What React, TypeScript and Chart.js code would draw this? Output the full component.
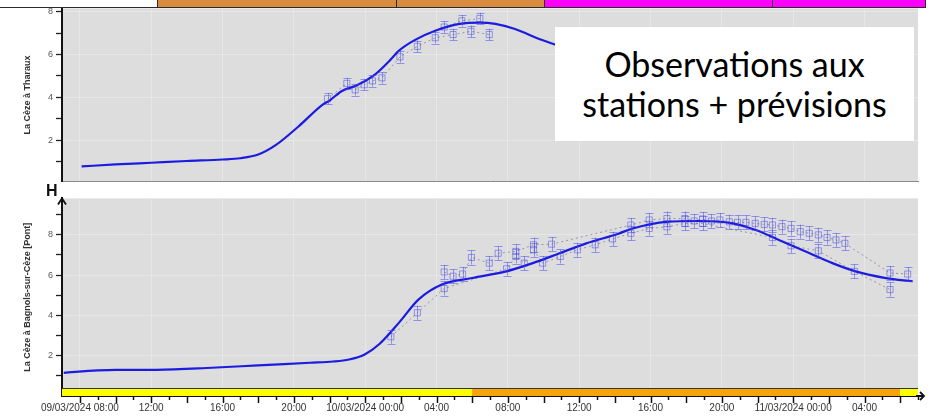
import React, { useEffect, useRef } from "react";
import { Chart, registerables } from "chart.js";
Chart.register(...registerables);

const FONT = "'Liberation Sans', Arial, sans-serif";

// x values: hours since 09/03/2024 00:00
const X_MIN = 7;
const X_MAX = 55;
const X_LABEL_HOURS = [8, 12, 16, 20, 24, 28, 32, 36, 40, 44, 48, 52];
const X_LABELS = [
  "09/03/2024 08:00", "12:00", "16:00", "20:00", "10/03/2024 00:00", "04:00",
  "08:00", "12:00", "16:00", "20:00", "11/03/2024 00:00", "04:00",
];
const Y_LABELS_TOP = [2, 4, 6, 8];
const Y_LABELS_BOTTOM = [2, 4, 6, 8];

// ---- Top panel: La Cèze à Tharaux ----
const TOP_FC_H = [8.1, 10, 12, 14, 16, 17, 18, 19, 20.3, 21.6, 22.0, 22.7, 23.5, 24.6, 25.3, 25.9, 26.8, 28.0, 29.3, 30.4, 31.3, 32.4, 33.8, 34.6, 36, 38, 40, 42, 44, 46, 48, 50, 52, 54];
const TOP_FC_V = [0.78, 0.87, 0.95, 1.03, 1.1, 1.16, 1.33, 1.78, 2.67, 3.65, 3.85, 4.3, 4.55, 5.1, 5.65, 6.18, 6.68, 7.13, 7.43, 7.49, 7.43, 7.19, 6.71, 6.48, 6.0, 5.3, 4.6, 4.0, 3.5, 3.1, 2.8, 2.6, 2.45, 2.35];
const TOP_OBS1_H = [21.89, 22.97, 23.44, 23.95, 24.41, 24.94, 25.95, 26.93, 27.93, 28.93, 29.93, 30.96];
const TOP_OBS1_V = [3.94, 4.65, 4.35, 4.59, 4.77, 4.91, 5.89, 6.38, 6.78, 6.93, 7.08, 6.93];
const TOP_OBS2_H = [28.43, 29.42, 30.43];
const TOP_OBS2_V = [7.28, 7.57, 7.68];
const TOP_ERR = 0.27;

// ---- Bottom panel: La Cèze à Bagnols-sur-Cèze [Pont] ----
const BOT_FC_H = [7.1, 9, 10, 12.3, 15.4, 18, 20.9, 22.2, 23.1, 23.95, 24.8, 25.9, 27.0, 28.3, 30.0, 31.9, 33.4, 34.9, 36.4, 38.2, 39.0, 40.9, 42.7, 44.6, 45.9, 47.2, 48.7, 50.2, 51.5, 53.2, 54.7];
const BOT_FC_V = [1.15, 1.27, 1.3, 1.3, 1.4, 1.52, 1.65, 1.71, 1.81, 2.05, 2.58, 3.64, 4.79, 5.53, 5.85, 6.18, 6.59, 7.08, 7.57, 8.05, 8.31, 8.64, 8.68, 8.56, 8.23, 7.74, 7.17, 6.59, 6.18, 5.85, 5.69];
const BOT_OBS1_H = [25.44, 26.93, 28.43, 31.93, 32.45, 32.92, 33.44, 33.95, 34.94, 35.9, 36.9, 37.87, 38.9, 39.93, 40.92, 41.93, 42.92, 46.84, 47.88, 49.41, 51.43, 53.43];
const BOT_OBS1_V = [2.94, 4.13, 5.33, 6.31, 6.92, 6.59, 7.25, 6.59, 6.92, 7.25, 7.5, 7.79, 8.07, 8.31, 8.39, 8.56, 8.56, 7.86, 7.45, 7.2, 6.18, 5.28];
const BOT_OBS2_H = [28.43, 28.93, 29.46, 29.96, 30.96, 31.46, 32.45, 33.44, 34.45, 38.9, 39.93, 40.92, 41.93, 42.45, 42.92, 43.42, 43.89, 44.42, 44.88, 45.35, 45.87, 46.38, 46.84, 47.37, 47.88, 48.4, 48.9, 49.41, 49.9, 50.4, 50.9, 53.43, 54.42];
const BOT_OBS2_V = [6.15, 5.94, 6.05, 6.87, 6.59, 7.08, 7.17, 7.5, 7.53, 8.48, 8.73, 8.8, 8.8, 8.68, 8.78, 8.68, 8.73, 8.64, 8.61, 8.61, 8.56, 8.51, 8.48, 8.4, 8.31, 8.15, 8.07, 7.99, 7.86, 7.74, 7.57, 6.1, 6.05];
const BOT_ERR = 0.35;

// vigilance bands (hour boundaries)
const TOP_BAND_EDGES = [3.4, 12.3, 25.75, 34.05, 46.8, 55.4];
const TOP_BAND_COLORS = ["#ffffff", "#d98b3f", "#d98b3f", "#ff00ff", "#ff00ff"];
const BOT_BAND_EDGES = [7, 30, 54, 55];
const BOT_BAND_COLORS = ["#ffff00", "#f7a30a", "#ffff00"];

const PLOT_BG = "#dddddd";
const GRID = "#e7e7e7";
const FC_COLOR = "#1c1ce0";
const OBS_COLOR = "rgba(70,70,235,0.5)";
const OBS_LINE = "rgba(110,110,140,0.65)";

const pts = (h: number[], v: number[]) => h.map((x, i) => ({ x, y: v[i] }));

const hourTickList = () => {
  const out: { value: number }[] = [];
  for (let h = X_MIN; h <= X_MAX; h++) out.push({ value: h });
  return out;
};

const bgPlugin = {
  id: "plotbg",
  beforeDraw(chart: any) {
    const { ctx, chartArea: a } = chart;
    ctx.save();
    ctx.fillStyle = PLOT_BG;
    ctx.fillRect(a.left, a.top, a.right - a.left, a.bottom - a.top);
    ctx.restore();
  },
};

const errPlugin = {
  id: "errbars",
  afterDatasetsDraw(chart: any, _a: any, opts: any) {
    const { ctx } = chart;
    const ys = chart.scales.y;
    chart.data.datasets.forEach((ds: any, di: number) => {
      if (!ds.isObs) return;
      const meta = chart.getDatasetMeta(di);
      ctx.save();
      ctx.strokeStyle = OBS_COLOR;
      ctx.lineWidth = 1;
      meta.data.forEach((p: any, i: number) => {
        const v = ds.data[i].y;
        const yt = ys.getPixelForValue(v + opts.err);
        const yb = ys.getPixelForValue(v - opts.err);
        const x = Math.round(p.x) + 0.5;
        ctx.beginPath();
        ctx.moveTo(x, yt);
        ctx.lineTo(x, yb);
        ctx.moveTo(x - 4, Math.round(yt) + 0.5);
        ctx.lineTo(x + 4, Math.round(yt) + 0.5);
        ctx.moveTo(x - 4, Math.round(yb) + 0.5);
        ctx.lineTo(x + 4, Math.round(yb) + 0.5);
        ctx.stroke();
      });
      ctx.restore();
    });
  },
};

const topBandPlugin = {
  id: "topband",
  afterDraw(chart: any) {
    const { ctx } = chart;
    const xs = chart.scales.x;
    ctx.save();
    for (let i = 0; i < TOP_BAND_COLORS.length; i++) {
      const x0 = Math.round(xs.getPixelForValue(TOP_BAND_EDGES[i]));
      const x1 = Math.round(xs.getPixelForValue(TOP_BAND_EDGES[i + 1]));
      ctx.fillStyle = TOP_BAND_COLORS[i];
      ctx.fillRect(x0, 0, x1 - x0, 7);
      ctx.strokeStyle = "#2a2a2a";
      ctx.lineWidth = 1;
      ctx.strokeRect(x0 + 0.5, -2, x1 - x0, 9.5);
    }
    ctx.restore();
  },
};

const botBandPlugin = {
  id: "botband",
  beforeDatasetsDraw(chart: any) {
    const { ctx, chartArea: a } = chart;
    const xs = chart.scales.x;
    ctx.save();
    for (let i = 0; i < BOT_BAND_COLORS.length; i++) {
      const x0 = xs.getPixelForValue(BOT_BAND_EDGES[i]);
      const x1 = xs.getPixelForValue(BOT_BAND_EDGES[i + 1]);
      ctx.fillStyle = BOT_BAND_COLORS[i];
      ctx.fillRect(x0, a.bottom - 8, x1 - x0, 8);
    }
    ctx.strokeStyle = "#333";
    ctx.lineWidth = 1;
    ctx.beginPath();
    ctx.moveTo(a.left, Math.round(a.bottom - 8) + 0.5);
    ctx.lineTo(a.right, Math.round(a.bottom - 8) + 0.5);
    ctx.stroke();
    ctx.restore();
  },
  afterDraw(chart: any) {
    const { ctx, chartArea: a } = chart;
    const xs = chart.scales.x;
    ctx.save();
    ctx.strokeStyle = "#111";
    ctx.lineWidth = 1.5;
    // hour tick marks
    for (let h = X_MIN + 1; h <= X_MAX; h++) {
      const x = Math.round(xs.getPixelForValue(h)) + 0.5;
      const len = h % 2 === 0 ? 7 : 4;
      ctx.beginPath();
      ctx.moveTo(x, a.bottom);
      ctx.lineTo(x, a.bottom + len);
      ctx.stroke();
    }
    // y-axis arrow
    ctx.lineWidth = 1.8;
    ctx.beginPath();
    ctx.moveTo(a.left - 4, a.top + 6);
    ctx.lineTo(a.left, a.top);
    ctx.lineTo(a.left + 4, a.top + 6);
    ctx.stroke();
    // x-axis arrow
    ctx.beginPath();
    ctx.moveTo(a.right - 2, a.bottom);
    ctx.lineTo(a.right + 6, a.bottom);
    ctx.moveTo(a.right + 2, a.bottom - 4);
    ctx.lineTo(a.right + 6, a.bottom);
    ctx.lineTo(a.right + 2, a.bottom + 4);
    ctx.stroke();
    ctx.restore();
  },
};

function makeDatasets(fcH: number[], fcV: number[], obs: [number[], number[]][]) {
  const ds: any[] = [
    {
      data: pts(fcH, fcV),
      borderColor: FC_COLOR,
      borderWidth: 2.2,
      pointRadius: 0,
      tension: 0.4,
      cubicInterpolationMode: "monotone",
      fill: false,
    },
  ];
  obs.forEach(([h, v]) => {
    ds.push({
      isObs: true,
      data: pts(h, v),
      showLine: true,
      borderColor: OBS_LINE,
      borderWidth: 1,
      borderDash: [2, 3],
      pointStyle: "rect",
      pointRadius: 4.3,
      pointBorderColor: OBS_COLOR,
      pointBackgroundColor: "rgba(0,0,0,0)",
      pointBorderWidth: 1,
      fill: false,
    });
  });
  return ds;
}

function xScale(showLabels: boolean, height: number, borderColor: string, borderWidth: number) {
  return {
    type: "linear",
    min: X_MIN,
    max: X_MAX,
    afterBuildTicks: (s: any) => {
      s.ticks = hourTickList();
    },
    afterFit: (s: any) => {
      s.height = height;
    },
    ticks: {
      display: showLabels,
      autoSkip: false,
      maxRotation: 0,
      minRotation: 0,
      padding: 6,
      color: "#333",
      font: { family: FONT, size: 10 },
      callback: (v: any) => {
        const i = X_LABEL_HOURS.indexOf(v);
        return i >= 0 ? X_LABELS[i] : "";
      },
    },
    grid: {
      drawTicks: false,
      color: (c: any) => (c.tick && X_LABEL_HOURS.includes(c.tick.value) ? GRID : "rgba(0,0,0,0)"),
      lineWidth: 1,
    },
    border: { color: borderColor, width: borderWidth },
  };
}

function yScale(min: number, max: number, labels: number[], ticksUpTo: number, title: string) {
  return {
    type: "linear",
    min,
    max,
    afterBuildTicks: (s: any) => {
      const t: { value: number }[] = [];
      for (let v = 1; v <= ticksUpTo; v++) t.push({ value: v });
      s.ticks = t;
    },
    afterFit: (s: any) => {
      s.width = 62;
    },
    ticks: {
      autoSkip: false,
      padding: 3,
      color: "#555",
      font: { family: FONT, size: 9 },
      callback: (v: any) => (labels.includes(v) ? String(v) : ""),
    },
    grid: {
      drawTicks: true,
      tickLength: 6,
      tickColor: "#222",
      tickWidth: 1.3,
      color: (c: any) => (c.tick && labels.includes(c.tick.value) ? GRID : "rgba(0,0,0,0)"),
    },
    border: { color: "#111", width: 2 },
    title: {
      display: true,
      text: title,
      color: "#333",
      font: { family: FONT, size: 9, weight: "bold" },
      padding: { top: 22, bottom: 0 },
    },
  };
}

export default function App() {
  const topRef = useRef<HTMLCanvasElement | null>(null);
  const botRef = useRef<HTMLCanvasElement | null>(null);

  useEffect(() => {
    const common = {
      responsive: false,
      animation: false,
      devicePixelRatio: 1,
      plugins: { legend: { display: false }, tooltip: { enabled: false } },
    };
    const top = new Chart(topRef.current as HTMLCanvasElement, {
      type: "line",
      data: { datasets: makeDatasets(TOP_FC_H, TOP_FC_V, [[TOP_OBS1_H, TOP_OBS1_V], [TOP_OBS2_H, TOP_OBS2_V]]) },
      options: {
        ...common,
        layout: { padding: { top: 8, right: 10, left: 0, bottom: 0 } },
        plugins: { ...common.plugins, errbars: { err: TOP_ERR } },
        scales: {
          x: xScale(false, 2, "#8a8a8a", 1),
          y: yScale(0.07, 8.15, Y_LABELS_TOP, 8, "La Cèze à Tharaux"),
        },
      } as any,
      plugins: [bgPlugin, errPlugin, topBandPlugin],
    });
    const bot = new Chart(botRef.current as HTMLCanvasElement, {
      type: "line",
      data: { datasets: makeDatasets(BOT_FC_H, BOT_FC_V, [[BOT_OBS1_H, BOT_OBS1_V], [BOT_OBS2_H, BOT_OBS2_V]]) },
      options: {
        ...common,
        layout: { padding: { top: 7, right: 10, left: 0, bottom: 0 } },
        plugins: { ...common.plugins, errbars: { err: BOT_ERR } },
        scales: {
          x: xScale(true, 23, "#111", 2),
          y: yScale(0, 9.8, Y_LABELS_BOTTOM, 9, "La Cèze à Bagnols-sur-Cèze [Pont]"),
        },
      } as any,
      plugins: [bgPlugin, botBandPlugin, errPlugin],
    });
    return () => {
      top.destroy();
      bot.destroy();
    };
  }, []);

  return (
    <div style={{ position: "absolute", left: 0, top: 0, width: 928, height: 419, background: "#fff", overflow: "hidden" }}>
      <canvas ref={topRef} width={928} height={190} style={{ position: "absolute", left: 0, top: 0, display: "block" }} />
      <canvas ref={botRef} width={928} height={229} style={{ position: "absolute", left: 0, top: 190, display: "block" }} />
      <div style={{ position: "absolute", left: 46, top: 183, fontFamily: FONT, fontWeight: "bold", fontSize: 16, lineHeight: "16px", color: "#111" }}>H</div>
      <div
        style={{
          position: "absolute", left: 555, top: 27, width: 359, height: 114, background: "#fff",
          display: "flex", flexDirection: "column", alignItems: "center", justifyContent: "center",
          fontFamily: "Lato, 'Open Sans', sans-serif", fontSize: 34, lineHeight: "40px", color: "#000",
        }}
      >
        <div>Observations aux</div>
        <div>stations + prévisions</div>
      </div>
    </div>
  );
}
